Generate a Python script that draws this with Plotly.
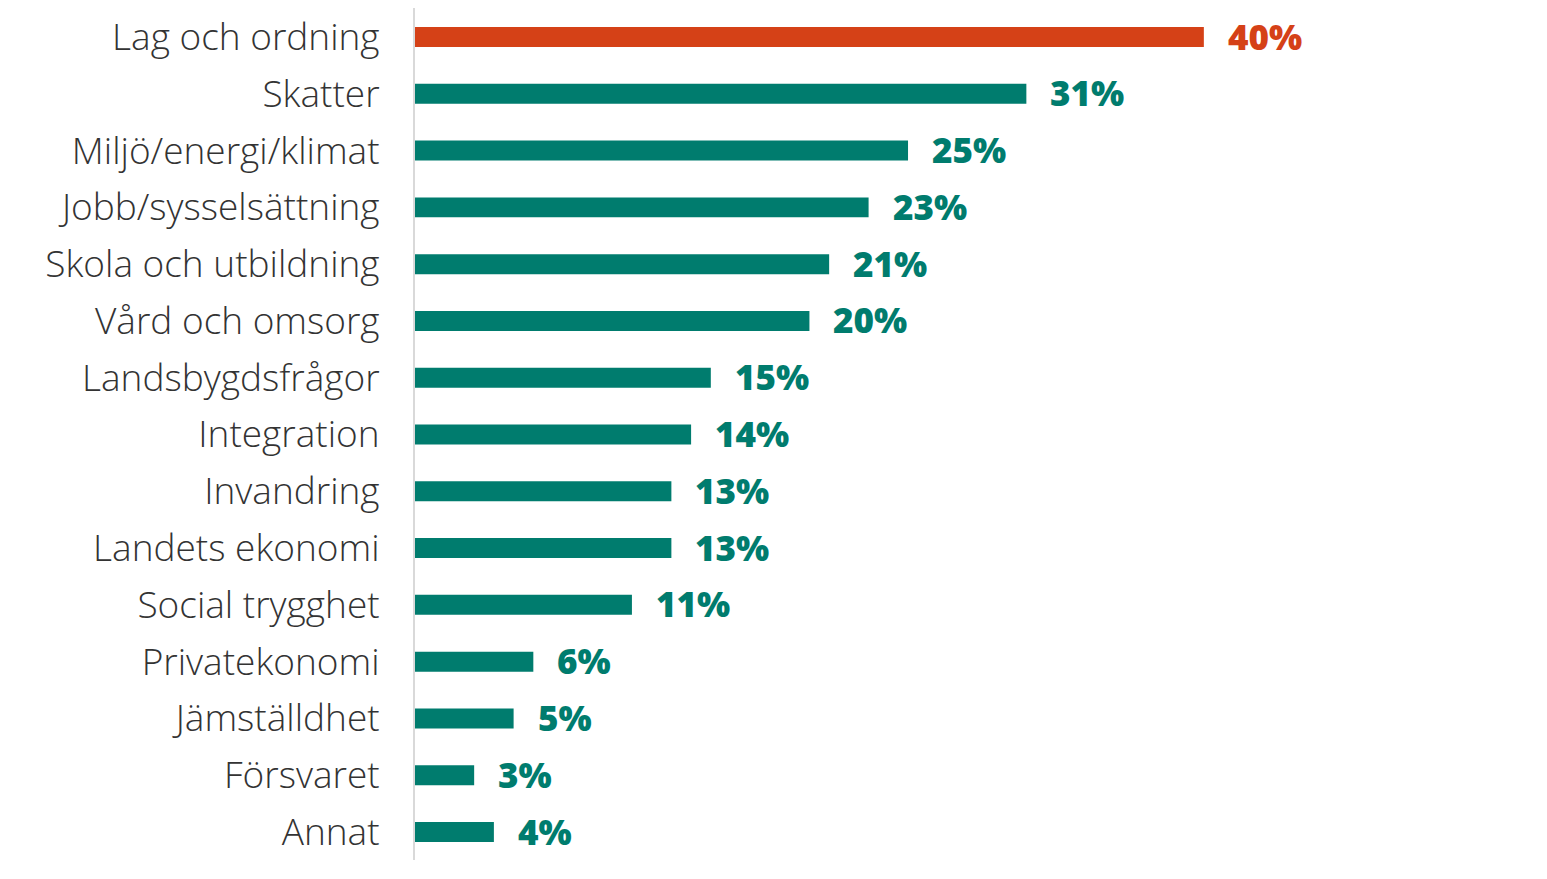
import plotly.graph_objects as go

# Viktigaste frågor (andel, %)
kategorier = ['Lag och ordning', 'Skatter', 'Miljö/energi/klimat', 'Jobb/sysselsättning',
              'Skola och utbildning', 'Vård och omsorg', 'Landsbygdsfrågor', 'Integration',
              'Invandring', 'Landets ekonomi', 'Social trygghet', 'Privatekonomi',
              'Jämställdhet', 'Försvaret', 'Annat']
andel = [40, 31, 25, 23, 21, 20, 15, 14, 13, 13, 11, 6, 5, 3, 4]

orange = 'rgb(213, 65, 23)'
teal = 'rgb(0, 124, 110)'
farger = [orange] + [teal] * (len(kategorier) - 1)

fig = go.Figure(go.Bar(
    x=andel, y=kategorier, orientation='h',
    marker=dict(color=farger, line_width=0),
    width=0.352,
    hoverinfo='skip'))

for kat, v, f in zip(kategorier, andel, farger):
    fig.add_annotation(x=v, y=kat, text=f'{v}%', showarrow=False,
                       xanchor='left', xshift=22, yshift=1,
                       font=dict(family='Open Sans', size=35, color=f, weight=800))

fig.update_layout(
    width=1539, height=871,
    margin=dict(l=407, r=0, t=0, b=19),
    plot_bgcolor='white', paper_bgcolor='white',
    showlegend=False,
    font=dict(family='Open Sans', size=37, color='#333333', weight=300),
    xaxis=dict(range=[0, 57.4], visible=False, fixedrange=True),
    yaxis=dict(range=[14.493, -0.511], showline=True, linecolor='#d9d9d9', linewidth=2,
               ticks='', ticklabelstandoff=26, showgrid=False, fixedrange=True),
)
fig.write_html("out.html")
